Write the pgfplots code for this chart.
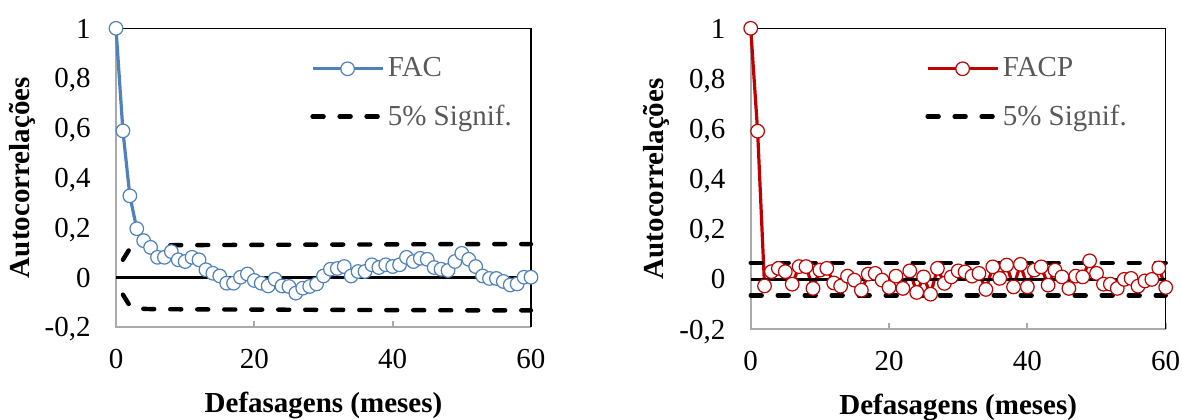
\documentclass[border=0pt]{standalone}
\usepackage{fontspec}
\setmainfont{Liberation Serif}
\usepackage{pgfplots}
\pgfplotsset{compat=1.18}

\definecolor{facblue}{RGB}{79,129,189}
\definecolor{facpred}{RGB}{192,0,0}
\definecolor{spine}{RGB}{170,170,170}
\definecolor{leggray}{RGB}{89,89,89}

\newcommand{\chartfont}{\fontsize{14.5}{17}\selectfont}

\pgfplotsset{
  acfaxis/.style={
    scale only axis,
    width=207.5pt,
    xmin=0, xmax=60, ymin=-0.2, ymax=1,
    clip=false,
    axis line style={draw=none},
    xtick={0,20,40,60}, xticklabels={0,20,40,60},
    ytick={-0.2,0,0.2,0.4,0.6,0.8,1},
    yticklabels={{-0,2},0,{0,2},{0,4},{0,6},{0,8},1},
    xtick pos=bottom, ytick pos=left,
    tick align=inside, major tick length=3pt,
    xtick style={draw=spine, line width=1pt},
    ytick style={draw=none},
    every tick label/.append style={font=\chartfont, inner sep=0pt},
    xticklabel style={anchor=base, yshift=-20.5pt},
    yticklabel style={anchor=base east, xshift=-12.5pt, yshift=-4.9pt},
    xlabel={Defasagens (meses)},
    ylabel={Autocorrelações},
    xlabel style={font=\chartfont\bfseries, inner sep=0pt,
      at={([yshift=-42.5pt]axis description cs:0.5,0)}, anchor=base},
    ylabel style={font=\chartfont\bfseries, inner sep=0pt,
      at={([xshift=-47pt]axis description cs:0,0.5)}, anchor=center},
    legend cell align=left,
    legend image code/.code={
      \draw[mark repeat=2,mark phase=2,#1]
        plot coordinates {(0pt,0pt) (17.5pt,0pt) (35pt,0pt)};},
    legend style={draw=none, fill=none, inner sep=0pt,
      font=\chartfont, text=leggray,
      at={(axis description cs:0,1)}, anchor=north west,
      row sep=12.5pt, column sep=1.5pt,
      nodes={inner sep=0pt}},
  },
  sigline/.style={black, line width=2.2pt, line cap=round,
    dash pattern=on 5.5pt off 8pt},
  zeroline/.style={black, line width=1.6pt},
}

\begin{document}
\begin{tikzpicture}
\useasboundingbox (0,0) rectangle (591pt,-209.5pt);

% FAC
\begin{axis}[acfaxis, height=149.35pt,
  at={(58pt,-14.15pt)}, anchor=north west,
  legend style={xshift=97pt, yshift=-14.5pt}]
\draw[spine, line width=1pt] (rel axis cs:0,1) -- (rel axis cs:0,0) -- (rel axis cs:1,0);
\draw[black, line width=0.75pt] (rel axis cs:0,1) -- (rel axis cs:1,1) -- (rel axis cs:1,0);

\addlegendimage{facblue, line width=1.6pt, mark=*, mark size=3.4pt,
  mark options={fill=white, draw=facblue, line width=0.6pt}}
\addlegendentry{FAC}
\addlegendimage{sigline}
\addlegendentry{5\% Signif.}

\addplot[zeroline, forget plot] coordinates {(0,0) (60,0)};
\addplot[sigline, forget plot] coordinates {
  (1,0.07) (2,0.115) (3,0.124) (4,0.127) (5,0.128) (10,0.129)
  (20,0.130) (30,0.131) (40,0.132) (50,0.133) (60,0.133)};
\addplot[sigline, forget plot] coordinates {
  (1,-0.07) (2,-0.115) (3,-0.124) (4,-0.127) (5,-0.128) (10,-0.129)
  (20,-0.130) (30,-0.131) (40,-0.132) (50,-0.133) (60,-0.133)};

\addplot[facblue, line width=1.6pt, mark=*, mark size=3.4pt,
  mark options={fill=white, draw=facblue, line width=0.6pt}, forget plot]
  coordinates {
  (0,1.000) (1,0.588) (2,0.327) (3,0.195) (4,0.147) (5,0.120)
  (6,0.080) (7,0.080) (8,0.103) (9,0.070) (10,0.063) (11,0.080)
  (12,0.070) (13,0.030) (14,0.016) (15,0.005) (16,-0.024) (17,-0.024)
  (18,0.000) (19,0.013) (20,-0.013) (21,-0.024) (22,-0.035) (23,-0.008)
  (24,-0.035) (25,-0.037) (26,-0.064) (27,-0.044) (28,-0.037) (29,-0.027)
  (30,0.005) (31,0.032) (32,0.035) (33,0.043) (34,0.005) (35,0.023)
  (36,0.023) (37,0.050) (38,0.039) (39,0.050) (40,0.043) (41,0.050)
  (42,0.080) (43,0.063) (44,0.076) (45,0.072) (46,0.039) (47,0.032)
  (48,0.027) (49,0.063) (50,0.096) (51,0.072) (52,0.043) (53,0.005)
  (54,-0.005) (55,-0.005) (56,-0.017) (57,-0.031) (58,-0.027) (59,0.000)
  (60,0.000)};
\end{axis}

% FACP
\begin{axis}[acfaxis, height=150.5pt,
  at={(375.35pt,-14.15pt)}, anchor=north west,
  legend style={xshift=87.15pt, yshift=-14.5pt}]
\draw[spine, line width=1pt] (rel axis cs:0,1) -- (rel axis cs:0,0) -- (rel axis cs:1,0);
\draw[black, line width=0.75pt] (rel axis cs:0,1) -- (rel axis cs:1,1) -- (rel axis cs:1,0);

\addlegendimage{facpred, line width=1.6pt, mark=*, mark size=3.4pt,
  mark options={fill=white, draw=facpred, line width=0.6pt}}
\addlegendentry{FACP}
\addlegendimage{sigline}
\addlegendentry{5\% Signif.}

\addplot[facpred, line width=1.6pt, mark=*, mark size=3.4pt,
  mark options={fill=white, draw=facpred, line width=0.6pt}, forget plot]
  coordinates {
  (0,1.000) (1,0.590) (2,-0.027) (3,0.030) (4,0.043) (5,0.030)
  (6,-0.020) (7,0.050) (8,0.050) (9,-0.037) (10,0.036) (11,0.043)
  (12,-0.015) (13,-0.028) (14,0.012) (15,-0.004) (16,-0.044) (17,0.020)
  (18,0.023) (19,-0.004) (20,-0.033) (21,0.012) (22,-0.037) (23,0.033)
  (24,-0.053) (25,0.009) (26,-0.060) (27,0.043) (28,-0.017) (29,0.009)
  (30,0.033) (31,0.029) (32,0.012) (33,0.023) (34,-0.041) (35,0.049)
  (36,0.003) (37,0.056) (38,-0.031) (39,0.059) (40,-0.031) (41,0.036)
  (42,0.049) (43,-0.024) (44,0.036) (45,0.009) (46,-0.037) (47,0.012)
  (48,0.009) (49,0.073) (50,0.023) (51,-0.020) (52,-0.020) (53,-0.037)
  (54,-0.001) (55,0.003) (56,-0.028) (57,-0.007) (58,-0.001) (59,0.045)
  (60,-0.033)};

\addplot[zeroline, forget plot] coordinates {(0,0) (60,0)};
\addplot[sigline, forget plot] coordinates {(0,0.065) (60,0.065)};
\addplot[sigline, forget plot] coordinates {(0,-0.065) (60,-0.065)};
\end{axis}
\end{tikzpicture}
\end{document}
